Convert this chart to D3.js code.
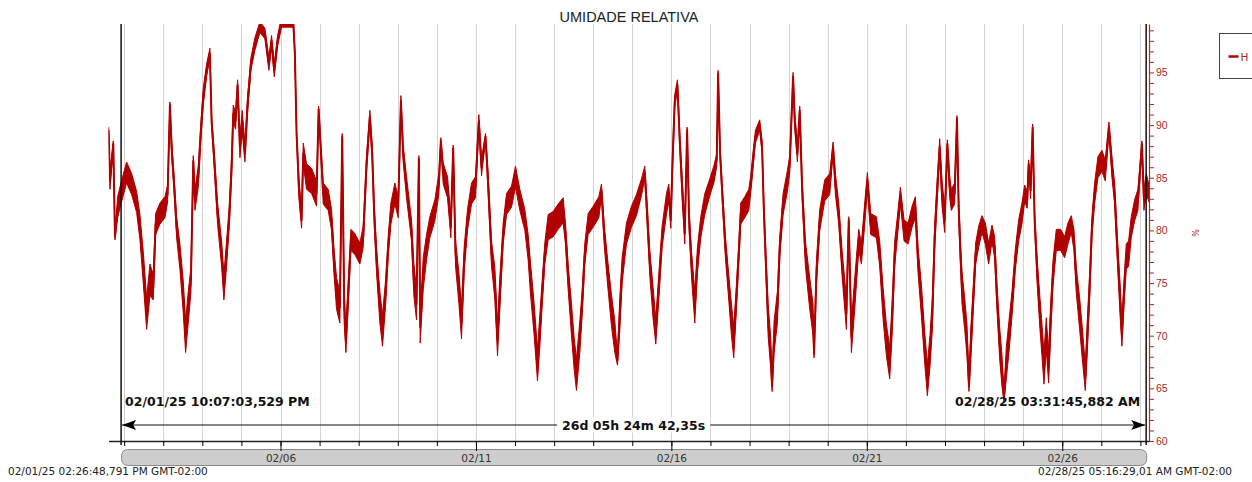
<!DOCTYPE html>
<html>
<head>
<meta charset="utf-8">
<script src="https://cdn.jsdelivr.net/npm/d3@7"></script>
<style>
  body { margin: 0; background: #fff; }
  svg { display: block; }
</style>
</head>
<body>
<svg id="chart"></svg>
<script>
// readings: [day of February (decimal), relative humidity %, noise half-band]
const readings = [
  [1.602, 89.5, 0.3], [1.637, 84.7, 0.8], [1.722, 88.2, 0.3], [1.765, 79.4, 0.3], [1.833, 82.2, 1.0],
  [1.918, 83.5, 1.0], [2.063, 85.5, 1.0], [2.191, 84.4, 1.0], [2.319, 82.7, 1.0], [2.404, 80.3, 1.2],
  [2.489, 76.5, 1.5], [2.575, 72.1, 1.5], [2.66, 75.3, 1.5], [2.745, 74.6, 1.2], [2.805, 80.6, 1.0],
  [2.916, 81.6, 1.0], [3.044, 82.2, 1.0], [3.112, 83.5, 0.8], [3.171, 91.9, 0.3], [3.214, 87.9, 0.8],
  [3.282, 84.1, 0.8], [3.342, 80.3, 1.0], [3.427, 77.5, 1.2], [3.512, 73.7, 1.5], [3.572, 69.9, 1.5],
  [3.64, 72.7, 1.5], [3.708, 75.3, 1.2], [3.768, 86.6, 0.5], [3.811, 82.9, 1.0], [3.896, 85.1, 1.0],
  [3.964, 89.5, 0.8], [4.024, 92.7, 0.8], [4.109, 95.2, 0.6], [4.194, 96.8, 0.5], [4.237, 90.4, 0.5],
  [4.305, 86.7, 0.8], [4.39, 81.6, 1.0], [4.493, 77.8, 1.2], [4.552, 74.6, 1.2], [4.62, 77.8, 1.2],
  [4.689, 81.3, 1.0], [4.749, 86.0, 1.0], [4.791, 91.1, 0.8], [4.851, 90.4, 0.8], [4.902, 93.8, 0.5],
  [4.962, 87.9, 1.0], [5.021, 90.4, 1.0], [5.09, 87.3, 0.8], [5.158, 92.0, 0.8], [5.243, 95.8, 0.6],
  [5.345, 97.7, 0.6], [5.473, 99.3, 0.5], [5.601, 98.7, 0.5], [5.703, 95.8, 0.6], [5.771, 98.0, 0.5],
  [5.84, 95.2, 0.6], [5.925, 98.0, 0.5], [6.027, 99.8, 0.5], [6.198, 99.8, 0.5], [6.326, 99.8, 0.5],
  [6.368, 96.8, 0.3], [6.411, 89.2, 0.3], [6.47, 84.1, 1.0], [6.539, 81.0, 0.8], [6.582, 87.3, 1.0],
  [6.667, 85.1, 1.2], [6.795, 84.7, 1.2], [6.923, 83.5, 1.2], [6.975, 91.5, 0.3], [7.093, 83.5, 1.0],
  [7.221, 82.9, 1.0], [7.306, 81.0, 1.0], [7.366, 77.2, 1.2], [7.434, 74.0, 1.5], [7.519, 72.7, 1.5],
  [7.579, 88.9, 0.3], [7.63, 72.7, 1.5], [7.673, 69.6, 1.2], [7.733, 74.0, 1.2], [7.801, 79.1, 1.0],
  [7.903, 78.7, 1.0], [8.031, 77.8, 1.0], [8.116, 79.4, 1.0], [8.201, 86.3, 0.8], [8.287, 90.8, 0.6],
  [8.346, 87.3, 0.8], [8.397, 81.6, 1.0], [8.457, 77.2, 1.2], [8.542, 72.7, 1.5], [8.61, 70.5, 1.5],
  [8.687, 74.0, 1.2], [8.755, 78.4, 1.0], [8.824, 81.6, 1.0], [8.926, 83.5, 1.0], [9.011, 82.2, 1.0],
  [9.08, 92.3, 0.5], [9.139, 87.3, 0.8], [9.224, 84.1, 1.0], [9.352, 80.0, 1.0], [9.412, 75.3, 1.5],
  [9.48, 73.0, 1.5], [9.54, 86.8, 0.3], [9.574, 70.8, 1.5], [9.651, 75.9, 1.5], [9.736, 78.4, 1.2],
  [9.821, 80.3, 1.0], [9.949, 81.9, 1.0], [10.051, 84.4, 1.0], [10.102, 88.5, 0.3], [10.162, 85.4, 1.0],
  [10.273, 84.1, 1.0], [10.358, 80.3, 1.0], [10.418, 87.8, 0.3], [10.478, 77.8, 1.2], [10.563, 74.6, 1.5],
  [10.631, 71.2, 1.5], [10.699, 77.2, 1.2], [10.784, 81.0, 1.0], [10.887, 83.5, 1.0], [10.989, 84.1, 1.0],
  [11.074, 90.4, 0.6], [11.143, 86.0, 0.8], [11.245, 88.9, 0.3], [11.313, 84.4, 1.0], [11.398, 77.8, 1.2],
  [11.484, 75.0, 1.5], [11.552, 69.6, 1.5], [11.611, 74.0, 1.5], [11.697, 79.7, 1.0], [11.782, 82.5, 1.0],
  [11.91, 83.2, 1.0], [12.012, 85.1, 1.0], [12.123, 82.9, 1.0], [12.251, 81.0, 1.0], [12.336, 78.4, 1.2],
  [12.395, 75.5, 1.5], [12.49, 71.5, 1.5], [12.575, 67.2, 1.5], [12.635, 70.5, 1.5], [12.694, 74.0, 1.2],
  [12.762, 77.8, 1.0], [12.848, 80.3, 1.2], [12.976, 80.6, 1.2], [13.103, 81.3, 1.2], [13.231, 81.9, 1.2],
  [13.291, 79.7, 1.0], [13.359, 75.6, 1.2], [13.445, 71.5, 1.5], [13.513, 68.3, 1.5], [13.572, 66.3, 1.5],
  [13.658, 69.9, 1.5], [13.717, 73.1, 1.2], [13.786, 77.8, 1.0], [13.871, 80.6, 1.0], [13.999, 81.3, 1.0],
  [14.144, 82.2, 1.0], [14.212, 83.8, 0.6], [14.28, 79.7, 1.0], [14.365, 76.2, 1.2], [14.468, 72.4, 1.5],
  [14.553, 69.9, 1.5], [14.621, 67.7, 0.5], [14.681, 72.1, 1.5], [14.74, 76.2, 1.2], [14.851, 79.7, 1.0],
  [14.979, 81.3, 1.0], [15.107, 82.4, 1.0], [15.235, 84.1, 0.8], [15.32, 85.5, 0.6], [15.38, 81.6, 1.0],
  [15.448, 76.9, 1.2], [15.533, 73.1, 1.5], [15.601, 70.4, 1.2], [15.678, 74.6, 1.2], [15.763, 79.4, 1.0],
  [15.874, 82.5, 1.0], [15.934, 83.6, 0.8], [15.985, 81.0, 0.8], [16.028, 86.3, 0.8], [16.087, 92.3, 0.6],
  [16.155, 93.8, 0.5], [16.215, 88.5, 0.8], [16.275, 84.1, 1.0], [16.343, 79.7, 1.0], [16.403, 89.5, 0.3],
  [16.454, 81.0, 1.0], [16.514, 76.9, 1.2], [16.599, 72.7, 1.5], [16.667, 77.2, 1.2], [16.752, 80.3, 1.0],
  [16.855, 82.5, 1.0], [16.983, 84.1, 0.8], [17.093, 85.4, 0.8], [17.161, 86.7, 0.6], [17.196, 94.9, 0.3],
  [17.247, 87.3, 0.6], [17.307, 83.2, 0.8], [17.383, 78.4, 1.0], [17.468, 74.6, 1.2], [17.537, 71.5, 1.5],
  [17.596, 69.4, 1.5], [17.665, 73.7, 1.2], [17.724, 77.8, 1.0], [17.775, 81.6, 1.0], [17.878, 82.2, 1.0],
  [17.98, 82.9, 1.0], [18.031, 84.4, 0.8], [18.091, 86.7, 0.8], [18.15, 88.9, 0.6], [18.261, 90.0, 0.5],
  [18.321, 87.9, 0.6], [18.364, 82.2, 0.8], [18.415, 77.2, 1.0], [18.475, 71.5, 1.5], [18.543, 68.3, 1.5],
  [18.577, 65.2, 0.5], [18.628, 69.9, 1.5], [18.713, 72.7, 1.5], [18.773, 78.4, 1.0], [18.858, 82.5, 1.0],
  [18.969, 84.7, 1.0], [19.029, 86.3, 0.8], [19.114, 94.6, 0.4], [19.157, 90.4, 0.8], [19.225, 87.3, 0.8],
  [19.284, 91.4, 0.4], [19.344, 84.1, 1.0], [19.429, 77.8, 1.2], [19.54, 74.0, 1.5], [19.625, 71.5, 1.5],
  [19.651, 68.3, 0.4], [19.711, 75.9, 1.2], [19.796, 81.0, 1.0], [19.924, 83.8, 1.0], [20.052, 84.4, 1.0],
  [20.137, 87.9, 0.5], [20.197, 84.4, 1.0], [20.282, 81.6, 1.0], [20.367, 76.9, 1.2], [20.478, 72.1, 1.5],
  [20.538, 81.0, 0.3], [20.606, 69.9, 1.5], [20.691, 74.0, 1.5], [20.793, 79.1, 1.0], [20.862, 77.8, 1.0],
  [20.947, 81.6, 1.0], [21.015, 84.7, 0.8], [21.1, 80.6, 1.0], [21.245, 80.3, 1.0], [21.33, 77.8, 1.2],
  [21.416, 73.1, 1.5], [21.501, 69.6, 1.5], [21.586, 67.4, 1.5], [21.646, 71.5, 1.5], [21.714, 77.8, 1.2],
  [21.782, 80.3, 1.0], [21.859, 83.3, 0.8], [21.953, 80.0, 1.0], [22.055, 79.7, 1.0], [22.158, 81.3, 1.0],
  [22.243, 82.2, 1.0], [22.311, 77.2, 1.2], [22.396, 73.4, 1.5], [22.481, 68.9, 1.5], [22.55, 65.8, 1.5],
  [22.618, 68.6, 1.5], [22.677, 72.1, 1.5], [22.737, 79.4, 1.2], [22.805, 84.1, 1.0], [22.865, 87.9, 0.8],
  [22.925, 83.5, 1.2], [22.993, 81.0, 1.2], [23.061, 88.2, 0.4], [23.121, 84.1, 1.0], [23.163, 82.9, 1.0],
  [23.248, 83.5, 1.0], [23.307, 90.6, 0.3], [23.35, 82.2, 1.0], [23.393, 78.1, 1.2], [23.435, 74.6, 1.5],
  [23.504, 72.1, 1.5], [23.563, 69.6, 1.5], [23.614, 65.2, 0.5], [23.657, 68.9, 1.5], [23.717, 73.1, 1.2],
  [23.785, 77.8, 1.0], [23.862, 79.4, 1.0], [23.947, 80.6, 0.8], [24.032, 79.7, 1.0], [24.117, 77.8, 1.0],
  [24.203, 79.7, 0.8], [24.271, 78.4, 1.0], [24.33, 73.7, 1.2], [24.399, 69.3, 1.5], [24.458, 66.7, 1.5],
  [24.51, 64.2, 0.5], [24.569, 67.4, 1.5], [24.637, 69.9, 1.5], [24.714, 73.0, 1.2], [24.799, 77.2, 1.0],
  [24.885, 80.0, 1.0], [24.97, 81.6, 1.0], [25.038, 83.5, 0.8], [25.106, 82.9, 0.8], [25.14, 86.3, 0.4],
  [25.191, 83.8, 0.8], [25.243, 89.8, 0.3], [25.294, 81.0, 0.8], [25.362, 75.9, 1.2], [25.43, 72.1, 1.5],
  [25.481, 69.6, 1.5], [25.532, 66.9, 1.5], [25.592, 70.2, 1.5], [25.652, 67.0, 1.5], [25.703, 71.5, 1.5],
  [25.763, 75.9, 1.2], [25.848, 79.1, 1.0], [25.959, 79.1, 1.0], [26.061, 78.4, 1.0], [26.146, 79.7, 1.0],
  [26.231, 80.6, 0.8], [26.3, 79.1, 1.0], [26.359, 75.3, 1.2], [26.445, 72.1, 1.5], [26.513, 69.3, 1.5],
  [26.59, 66.0, 1.2], [26.641, 69.9, 1.5], [26.7, 74.6, 1.2], [26.76, 80.3, 1.0], [26.828, 83.5, 1.0],
  [26.913, 86.0, 1.0], [27.016, 86.6, 1.0], [27.101, 85.7, 1.0], [27.195, 89.8, 0.5], [27.272, 86.0, 1.0],
  [27.34, 83.5, 1.0], [27.408, 78.4, 1.2], [27.485, 73.1, 1.5], [27.527, 70.2, 1.2], [27.579, 74.0, 1.2],
  [27.638, 77.5, 1.2], [27.698, 77.8, 1.2], [27.766, 80.3, 1.0], [27.851, 81.9, 1.0], [27.936, 82.9, 1.0],
  [28.039, 88.2, 0.3], [28.09, 82.9, 1.0], [28.15, 84.4, 1.0], [28.22, 83.5, 0.8]
]

const dataStart = new Date(2025, 1, 1, 14, 26, 48, 791)
const dataEnd = new Date(2025, 1, 28, 5, 16, 29, 10)
const markerStart = new Date(2025, 1, 1, 22, 7, 3, 529)
const markerEnd = new Date(2025, 1, 28, 3, 31, 45, 882)
const majorDays = [6, 11, 16, 21, 26]
const yDomain = [60, 99.6]
const yMajorTicks = [60, 65, 70, 75, 80, 85, 90, 95]

const chartTitle = 'UMIDADE RELATIVA'
const seriesName = 'H'
const unitLabel = '%'
const startLabel = '02/01/25 10:07:03,529 PM'
const endLabel = '02/28/25 03:31:45,882 AM'
const spanLabel = '26d 05h 24m 42,35s'
const leftRangeLabel = '02/01/25 02:26:48,791 PM GMT-02:00'
const rightRangeLabel = '02/28/25 05:16:29,01 AM GMT-02:00'

const width = 1252
const height = 482
const margin = { top: 24, right: 103, bottom: 41, left: 108.6 }

const lineColour = '#b00000'
const axisColour = '#a8282c'
const gridColour = '#d4d4d4'
const labelFont = '"DejaVu Sans", Verdana, sans-serif'

const febDay = d => new Date(new Date(2025, 1, 1).getTime() + (d - 1) * 864e5)

const svg = d3.select('#chart')
  .attr('width', width)
  .attr('height', height)

/// Scales ///
const x = d3.scaleTime()
  .domain([dataStart, dataEnd])
  .range([margin.left, width - margin.right])

const y = d3.scaleLinear()
  .domain(yDomain)
  .range([height - margin.bottom, margin.top])

const plotBottom = height - margin.bottom

// title
svg.append('text')
  .attr('x', 629)
  .attr('y', 22)
  .attr('text-anchor', 'middle')
  .attr('font-family', '"Liberation Sans", Arial, sans-serif')
  .attr('font-size', '14.5px')
  .attr('fill', '#222')
  .text(chartTitle)

// daily grid lines
const days = d3.timeDay.range(d3.timeDay.ceil(dataStart), dataEnd)
svg.append('g')
  .selectAll('line')
  .data(days)
  .join('line')
    .attr('x1', d => Math.round(x(d)) + 0.5)
    .attr('x2', d => Math.round(x(d)) + 0.5)
    .attr('y1', margin.top)
    .attr('y2', plotBottom)
    .attr('stroke', gridColour)
    .attr('stroke-width', 1)

/// Series ///
svg.append('clipPath').attr('id', 'plot-clip')
  .append('rect')
  .attr('x', margin.left)
  .attr('y', margin.top)
  .attr('width', width - margin.right - margin.left)
  .attr('height', plotBottom - margin.top)

const seriesG = svg.append('g').attr('clip-path', 'url(#plot-clip)')

const band = d3.area()
  .x(d => x(febDay(d[0])))
  .y0(d => y(d[1] - d[2]))
  .y1(d => y(d[1] + d[2]))

const line = d3.line()
  .x(d => x(febDay(d[0])))
  .y(d => y(d[1]))

seriesG.append('path')
  .datum(readings)
  .attr('d', band)
  .attr('fill', lineColour)
  .attr('stroke', lineColour)
  .attr('stroke-width', 1)

seriesG.append('path')
  .datum(readings)
  .attr('d', line)
  .attr('fill', 'none')
  .attr('stroke', lineColour)
  .attr('stroke-width', 2)
  .attr('stroke-linejoin', 'round')

/// Right axis ///
const yAxis = g => g
  .attr('transform', `translate(${width - margin.right}, 0)`)
  .call(d3.axisRight(y)
    .tickValues(d3.range(60, 100, 1))
    .tickSize(5)
    .tickSizeOuter(0)
    .tickFormat(d => yMajorTicks.includes(d) ? d : '')
  )
  .call(g => g.select('.domain').attr('stroke', axisColour).attr('stroke-width', 1.2))
  .call(g => g.selectAll('.tick line').attr('stroke', axisColour))
  .call(g => g.selectAll('text')
    .attr('x', 7)
    .attr('fill', axisColour)
    .attr('font-size', '10.5px')
    .attr('font-family', '"Liberation Sans", Arial, sans-serif')
  )

svg.append('g').call(yAxis)

svg.append('text')
  .attr('transform', `translate(1199, 233) rotate(-90)`)
  .attr('text-anchor', 'middle')
  .attr('font-family', labelFont)
  .attr('font-size', '8px')
  .attr('fill', axisColour)
  .text(unitLabel)

/// Scroll bar + bottom axis ///
svg.append('rect')
  .attr('x', x(markerStart) + 0.5)
  .attr('y', 449.5)
  .attr('width', x(markerEnd) - x(markerStart))
  .attr('height', 16)
  .attr('rx', 6)
  .attr('fill', '#cdcdcd')
  .attr('stroke', '#8a8a8a')

const xAxisMinor = g => g
  .attr('transform', `translate(0, ${plotBottom})`)
  .call(d3.axisBottom(x)
    .tickValues(days)
    .tickSize(5)
    .tickSizeOuter(0)
    .tickFormat('')
  )
  .call(g => g.select('.domain').attr('stroke', '#222').attr('stroke-width', 1.5))

const xAxisMajor = g => g
  .attr('transform', `translate(0, ${plotBottom})`)
  .call(d3.axisBottom(x)
    .tickValues(majorDays.map(d => new Date(2025, 1, d)))
    .tickSize(10)
    .tickPadding(4)
    .tickFormat(d3.timeFormat('%m/%d'))
  )
  .call(g => g.select('.domain').remove())
  .call(g => g.selectAll('text')
    .attr('font-size', '10.5px')
    .attr('font-family', labelFont)
    .attr('fill', '#333')
  )

svg.append('g').call(xAxisMinor)
svg.append('g').call(xAxisMajor)

/// Range markers ///
const markerG = svg.append('g')
markerG.selectAll('line')
  .data([markerStart, markerEnd])
  .join('line')
    .attr('x1', d => x(d))
    .attr('x2', d => x(d))
    .attr('y1', margin.top)
    .attr('y2', plotBottom + 4)
    .attr('stroke', '#111')
    .attr('stroke-width', 1.5)

const arrowY = 425
const xs = x(markerStart) + 1
const xe = x(markerEnd) - 1
markerG.append('line')
  .attr('x1', xs).attr('x2', xe)
  .attr('y1', arrowY).attr('y2', arrowY)
  .attr('stroke', '#111')
  .attr('stroke-width', 1.2)

markerG.append('path')
  .attr('d', `M${xs},${arrowY} L${xs + 14},${arrowY - 5} L${xs + 11},${arrowY} L${xs + 14},${arrowY + 5} Z`)
  .attr('fill', '#000')
markerG.append('path')
  .attr('d', `M${xe},${arrowY} L${xe - 14},${arrowY - 5} L${xe - 11},${arrowY} L${xe - 14},${arrowY + 5} Z`)
  .attr('fill', '#000')

const spanText = markerG.append('text')
  .attr('x', (xs + xe) / 2)
  .attr('y', arrowY + 4.5)
  .attr('text-anchor', 'middle')
  .attr('font-family', labelFont)
  .attr('font-weight', 'bold')
  .attr('font-size', '12.5px')
  .attr('fill', '#111')
  .text(spanLabel)

const bb = spanText.node().getBBox()
markerG.insert('rect', 'text')
  .attr('x', bb.x - 5)
  .attr('y', bb.y)
  .attr('width', bb.width + 10)
  .attr('height', bb.height)
  .attr('fill', '#fff')

markerG.append('text')
  .attr('x', x(markerStart) + 4)
  .attr('y', 406)
  .attr('font-family', labelFont)
  .attr('font-weight', 'bold')
  .attr('font-size', '12.5px')
  .attr('fill', '#111')
  .text(startLabel)

markerG.append('text')
  .attr('x', x(markerEnd) - 6)
  .attr('y', 406)
  .attr('text-anchor', 'end')
  .attr('font-family', labelFont)
  .attr('font-weight', 'bold')
  .attr('font-size', '12.5px')
  .attr('fill', '#111')
  .text(endLabel)

// overall range labels
svg.append('text')
  .attr('x', 8)
  .attr('y', 475)
  .attr('font-family', labelFont)
  .attr('font-size', '10.5px')
  .attr('fill', '#222')
  .text(leftRangeLabel)

svg.append('text')
  .attr('x', 1232)
  .attr('y', 475)
  .attr('text-anchor', 'end')
  .attr('font-family', labelFont)
  .attr('font-size', '10.5px')
  .attr('fill', '#222')
  .text(rightRangeLabel)

/// Legend ///
const legendG = svg.append('g').attr('transform', 'translate(1219.5, 33.5)')
legendG.append('rect')
  .attr('width', 50)
  .attr('height', 45)
  .attr('fill', '#fff')
  .attr('stroke', '#444')
legendG.append('line')
  .attr('x1', 9).attr('x2', 19)
  .attr('y1', 23).attr('y2', 23)
  .attr('stroke', lineColour)
  .attr('stroke-width', 2.5)
legendG.append('text')
  .attr('x', 21)
  .attr('y', 27)
  .attr('font-family', labelFont)
  .attr('font-size', '10.5px')
  .attr('fill', axisColour)
  .text(seriesName)
</script>
</body>
</html>
